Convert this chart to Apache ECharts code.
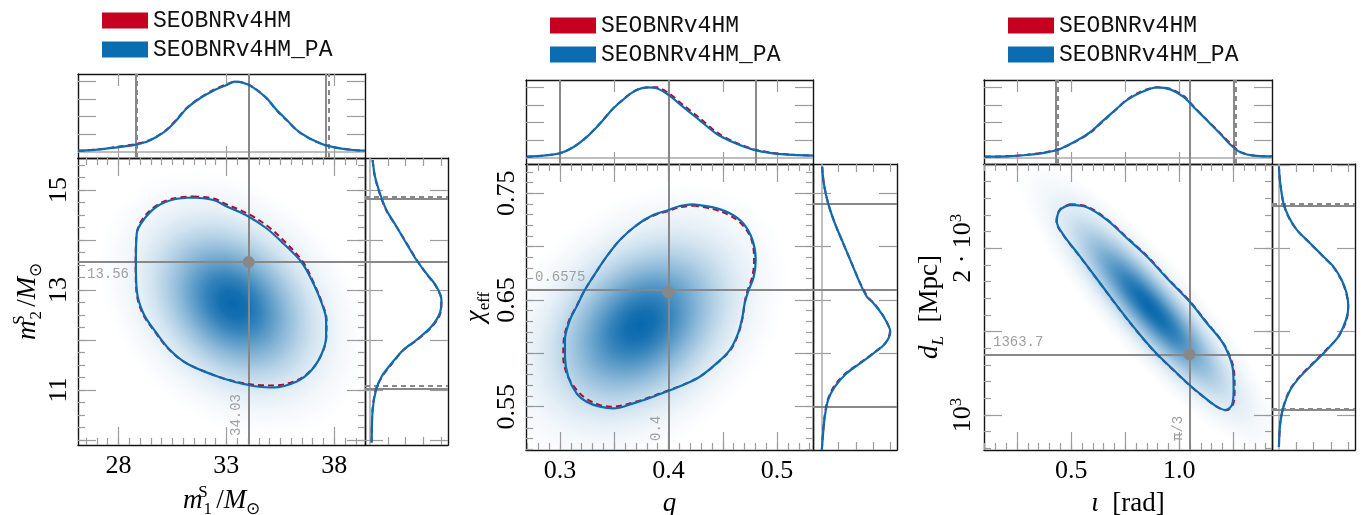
<!DOCTYPE html>
<html>
<head>
<meta charset="utf-8">
<script src="https://cdn.jsdelivr.net/npm/echarts@6/dist/echarts.min.js"></script>
<style>html,body{margin:0;padding:0;background:#fff}#c{width:1369px;height:515px}</style>
</head>
<body>
<div id="c"></div>
<script>
// ================= DATA =================
// ---- Panel 1: m1^S vs m2^S ----
const p1XRange = [26.13, 39.42];
const p1YRange = [9.9, 15.64];
const p1XMajor = [28, 33, 38];
const p1XLabels = [28, 33, 38];
const p1YMajor = [10, 11, 12, 13, 14, 15];
const p1YLabels = [11, 13, 15];
const p1Injected = [34.03, 13.56];
const p1InjectedText = ['34.03', '13.56'];
// density blob: centre, end of major axis (3 sigma), end of minor axis (3 sigma)
const p1DensityShape = [33.3, 12.72, 38.3, 10.56, 37.03, 14.33];
const p1ContourPA = [[31.47,14.85],[32.40,14.80],[33.02,14.67],[34.02,14.47],[34.87,14.23],[35.64,13.93],[36.49,13.55],[37.03,13.13],[37.42,12.73],[37.62,12.40],[37.62,12.07],[37.42,11.73],[36.95,11.40],[36.26,11.17],[35.18,11.05],[34.41,11.07],[34.02,11.10],[33.32,11.17],[32.40,11.30],[31.17,11.53],[30.39,11.80],[29.78,12.13],[29.16,12.53],[28.85,13.00],[28.81,13.55],[28.85,14.13],[29.16,14.40],[29.78,14.67],[30.55,14.81],[31.47,14.85]];
const p1ContourV4 = [[31.47,14.87],[32.40,14.83],[33.02,14.71],[34.02,14.52],[34.90,14.28],[35.70,13.97],[36.55,13.56],[37.06,13.13],[37.44,12.73],[37.64,12.40],[37.63,12.07],[37.43,11.73],[36.95,11.41],[36.26,11.19],[35.18,11.09],[34.41,11.10],[34.02,11.12],[33.32,11.18],[32.40,11.30],[31.10,11.55],[30.30,11.83],[29.70,12.16],[29.10,12.55],[28.83,13.00],[28.80,13.55],[28.85,14.13],[29.12,14.42],[29.76,14.69],[30.55,14.83],[31.47,14.87]];
const p1TopPA = [[26.13,0.013],[26.23,0.015],[27.15,0.033],[27.93,0.062],[28.69,0.095],[29.31,0.143],[29.78,0.214],[30.24,0.31],[30.70,0.453],[31.17,0.62],[31.78,0.763],[32.40,0.871],[33.02,0.953],[33.40,1.0],[33.94,0.967],[34.41,0.881],[34.87,0.763],[35.33,0.596],[35.80,0.453],[36.26,0.31],[36.72,0.214],[37.18,0.143],[37.65,0.086],[38.26,0.048],[38.88,0.024],[39.42,0.014]];
const p1TopV4 = [[26.13,0.012],[26.23,0.014],[27.15,0.036],[27.93,0.068],[28.69,0.104],[29.31,0.15],[29.78,0.22],[30.24,0.318],[30.70,0.462],[31.17,0.628],[31.78,0.77],[32.40,0.882],[33.02,0.965],[33.40,1.0],[33.94,0.972],[34.41,0.885],[34.87,0.76],[35.33,0.59],[35.80,0.447],[36.26,0.305],[36.72,0.21],[37.18,0.14],[37.65,0.088],[38.26,0.05],[38.88,0.025],[39.42,0.014]];
const p1RightPA = [[0.023,9.95],[0.037,10.6],[0.084,11.0],[0.163,11.27],[0.30,11.53],[0.465,11.8],[0.65,12.0],[0.86,12.27],[0.976,12.53],[1.0,12.8],[0.93,13.07],[0.79,13.33],[0.65,13.6],[0.51,13.93],[0.37,14.27],[0.23,14.6],[0.14,14.93],[0.07,15.27],[0.037,15.6]];
const p1RightV4 = [[0.023,9.95],[0.035,10.6],[0.08,11.0],[0.17,11.27],[0.31,11.53],[0.47,11.8],[0.66,12.0],[0.87,12.27],[0.985,12.53],[1.0,12.8],[0.925,13.07],[0.785,13.33],[0.655,13.6],[0.515,13.93],[0.37,14.27],[0.225,14.6],[0.135,14.93],[0.068,15.27],[0.036,15.6]];
const p1Bounds90X_PA = [28.81, 37.62];
const p1Bounds90X_V4 = [28.84, 37.72];
const p1Bounds90Y_PA = [14.83, 11.03];
const p1Bounds90Y_V4 = [14.87, 11.09];
const p1TopRange = [-0.09, 1.11];
const p1RightRange = [-0.07, 1.092];

// ---- Panel 2: q vs chi_eff ----
const p2XRange = [0.2687, 0.5331];
const p2YRange = [0.5094, 0.7775];
const p2XMajor = [0.3, 0.35, 0.4, 0.45, 0.5];
const p2XLabels = [0.3, 0.4, 0.5];
const p2YMajor = [0.55, 0.6, 0.65, 0.7, 0.75];
const p2YLabels = [0.55, 0.65, 0.75];
const p2Injected = [0.4, 0.6575];
const p2InjectedText = ['0.4', '0.6575'];
const p2DensityShape = [0.3736, 0.6266, 0.4898, 0.7306, 0.4465, 0.5421];
const p2ContourPA = [[0.4226,0.7397],[0.4410,0.7369],[0.4564,0.7313],[0.4687,0.7219],[0.4773,0.7063],[0.4803,0.6875],[0.4785,0.6719],[0.4733,0.6578],[0.4702,0.6469],[0.4681,0.6344],[0.4641,0.6188],[0.4564,0.6031],[0.4442,0.5906],[0.4288,0.5781],[0.4134,0.5703],[0.4003,0.5650],[0.3858,0.5594],[0.3674,0.5531],[0.3490,0.5484],[0.3368,0.5500],[0.3245,0.5547],[0.3153,0.5625],[0.3076,0.5781],[0.3046,0.5969],[0.3046,0.6125],[0.3092,0.6313],[0.3153,0.6438],[0.3220,0.6578],[0.3306,0.6719],[0.3429,0.6906],[0.3552,0.7063],[0.3706,0.7203],[0.3858,0.7297],[0.4003,0.7344],[0.4104,0.7381],[0.4226,0.7397]];
const p2ContourV4 = [[0.4226,0.7385],[0.4410,0.7352],[0.4560,0.7295],[0.4680,0.7205],[0.4765,0.7063],[0.4788,0.6875],[0.4772,0.6719],[0.4725,0.6578],[0.4700,0.6469],[0.4685,0.6344],[0.4645,0.6188],[0.4570,0.6031],[0.4445,0.5906],[0.4288,0.5781],[0.4134,0.5705],[0.4003,0.5655],[0.3858,0.5600],[0.3674,0.5540],[0.3490,0.5500],[0.3370,0.5515],[0.3250,0.5570],[0.3160,0.5650],[0.3070,0.5790],[0.3030,0.5969],[0.3035,0.6125],[0.3085,0.6313],[0.3150,0.6438],[0.3220,0.6578],[0.3306,0.6719],[0.3429,0.6906],[0.3552,0.7063],[0.3706,0.7200],[0.3858,0.7290],[0.4003,0.7335],[0.4104,0.7370],[0.4226,0.7385]];
const p2TopPA = [[0.2693,0.01],[0.2846,0.024],[0.3,0.058],[0.3122,0.144],[0.3245,0.288],[0.3368,0.48],[0.349,0.697],[0.3613,0.865],[0.3706,0.961],[0.3798,1.0],[0.389,0.986],[0.4003,0.889],[0.4134,0.72],[0.4288,0.529],[0.4442,0.337],[0.4595,0.216],[0.4779,0.111],[0.4963,0.058],[0.5147,0.034],[0.5331,0.024]];
const p2TopV4 = [[0.2693,0.01],[0.2846,0.024],[0.3,0.06],[0.3122,0.145],[0.3245,0.29],[0.3368,0.485],[0.349,0.70],[0.3613,0.868],[0.3706,0.962],[0.3798,0.997],[0.389,1.0],[0.4003,0.915],[0.4134,0.75],[0.4288,0.56],[0.4442,0.36],[0.4595,0.228],[0.4779,0.118],[0.4963,0.062],[0.5147,0.036],[0.5331,0.025]];
const p2RightPA = [[0.005,0.5094],[0.024,0.525],[0.048,0.5406],[0.097,0.5563],[0.195,0.5688],[0.366,0.5813],[0.561,0.5906],[0.756,0.6],[0.927,0.6094],[1.0,0.6203],[0.902,0.6344],[0.756,0.6469],[0.659,0.6531],[0.561,0.6656],[0.439,0.6844],[0.317,0.7031],[0.195,0.7219],[0.097,0.7406],[0.034,0.7594],[0.01,0.775]];
const p2RightV4 = [[0.005,0.5094],[0.022,0.525],[0.045,0.5406],[0.09,0.5563],[0.18,0.5688],[0.35,0.5813],[0.55,0.5906],[0.75,0.6],[0.925,0.6094],[0.995,0.6203],[0.905,0.6344],[0.765,0.6469],[0.67,0.6531],[0.565,0.6656],[0.44,0.6844],[0.315,0.7031],[0.195,0.7219],[0.097,0.7406],[0.034,0.7594],[0.01,0.775]];
const p2Bounds90X_PA = [0.3046, 0.4803];
const p2Bounds90X_V4 = [0.3015, 0.4794];
const p2Bounds90Y_PA = [0.7381, 0.5475];
const p2Bounds90Y_V4 = [0.7400, 0.5500];
const p2TopRange = [-0.095, 1.105];
const p2RightRange = [-0.123, 1.098];

// ---- Panel 3: iota vs d_L ----
const p3XRange = [0.097, 1.429];
const p3YRange = [790, 2505];
const p3XMajor = [0.25, 0.5, 0.75, 1.0, 1.25];
const p3XLabels = [0.5, 1.0];
const p3YMajor = [1000, 1500, 2000, 2500];
const p3YLabels = [1000, 2000];
const p3Injected = [1.0472, 1363.7];
const p3InjectedText = ['π/3', '1363.7'];
const p3DensityShape = [0.866, 1642, 1.462, 764, 1.033, 1832];
const p3ContourPA = [[0.4954,2260],[0.5727,2246],[0.6653,2170],[0.7579,2060],[0.8505,1950],[0.9431,1820],[1.0477,1680],[1.1281,1550],[1.1975,1440],[1.2284,1362],[1.2485,1270],[1.2515,1150],[1.2438,1060],[1.2130,1030],[1.1744,1050],[1.1125,1110],[1.0477,1180],[0.9736,1270],[0.8997,1362],[0.8194,1480],[0.7269,1630],[0.6343,1790],[0.5417,1950],[0.4644,2080],[0.4338,2160],[0.4491,2230],[0.4954,2260]];
const p3ContourV4 = [[0.4954,2264],[0.5727,2250],[0.6653,2174],[0.7579,2064],[0.8505,1954],[0.9431,1824],[1.0477,1684],[1.1281,1554],[1.1990,1440],[1.2310,1362],[1.2525,1270],[1.2560,1150],[1.2480,1060],[1.2150,1028],[1.1744,1048],[1.1125,1108],[1.0477,1178],[0.9736,1268],[0.8997,1360],[0.8194,1478],[0.7269,1628],[0.6343,1788],[0.5417,1948],[0.4644,2078],[0.4320,2160],[0.4480,2232],[0.4954,2264]];
const p3TopPA = [[0.1019,0.01],[0.2023,0.014],[0.2949,0.034],[0.3875,0.072],[0.4491,0.12],[0.5264,0.24],[0.588,0.36],[0.6495,0.529],[0.7116,0.697],[0.7579,0.817],[0.8194,0.922],[0.8968,1.0],[0.9583,0.971],[1.0199,0.865],[1.0662,0.72],[1.1282,0.529],[1.1898,0.337],[1.2361,0.183],[1.2824,0.072],[1.344,0.024],[1.429,0.014]];
const p3TopV4 = [[0.1019,0.01],[0.2023,0.015],[0.2949,0.036],[0.3875,0.078],[0.4491,0.125],[0.5264,0.235],[0.588,0.35],[0.6495,0.52],[0.7116,0.695],[0.7579,0.825],[0.8194,0.935],[0.8968,1.0],[0.9583,0.98],[1.0199,0.88],[1.0662,0.73],[1.1282,0.535],[1.1898,0.345],[1.2361,0.2],[1.2824,0.078],[1.344,0.026],[1.429,0.014]];
const p3RightPA = [[0.005,810],[0.024,950],[0.071,1050],[0.167,1150],[0.31,1230],[0.5,1310],[0.69,1390],[0.857,1470],[0.967,1570],[1.0,1650],[0.976,1730],[0.905,1810],[0.786,1890],[0.643,1950],[0.452,2030],[0.262,2110],[0.143,2190],[0.071,2270],[0.024,2390],[0.005,2490]];
const p3RightV4 = [[0.005,810],[0.024,950],[0.07,1050],[0.16,1150],[0.30,1230],[0.49,1310],[0.68,1390],[0.86,1470],[0.975,1570],[0.998,1650],[0.97,1730],[0.9,1810],[0.78,1890],[0.64,1950],[0.45,2030],[0.26,2110],[0.14,2190],[0.07,2270],[0.024,2390],[0.005,2490]];
const p3Bounds90X_PA = [0.434, 1.251];
const p3Bounds90X_V4 = [0.442, 1.259];
const p3Bounds90Y_PA = [2256, 1034];
const p3Bounds90Y_V4 = [2266, 1040];
const p3TopRange = [-0.095, 1.105];
const p3RightRange = [-0.094, 1.096];

const densityTicks = [0.25, 0.5, 0.75, 1.0];
const seriesNames = ['SEOBNRv4HM', 'SEOBNRv4HM_PA'];

// ================= STYLE / LAYOUT =================
const RED = '#c8001f', BLUE = '#0b6db1', GRAY = '#888888', TICK = '#9c9c9c';
const SERIF = 'Liberation Serif', MONO = 'Liberation Mono';

function steps(a, b, step) {
  const out = []; const n = Math.round((b - a) / step);
  for (let i = 0; i <= n; i++) out.push(+(a + i * step).toFixed(6));
  return out;
}

function box(l, t, w, h) { return {left:l, top:t, width:w, height:h, containLabel:false, outerBoundsMode:'none'}; }

const layout = [
  { main:box(78,158,287,287), top:box(78,74,287,84), right:box(365,158,83,287), legend:{left:102, top:9}, xNameGap:37, yNameGap:30, hPos:'insideStartBottom' },
  { main:box(526,164,287,286), top:box(526,80,287,84), right:box(813,164,84,286), legend:{left:550, top:14}, xNameGap:37, yNameGap:30, hPos:'insideStartTop' },
  { main:box(984,164,288,286), top:box(984,80,288,84), right:box(1272,164,83,286), legend:{left:1008, top:14}, xNameGap:37, yNameGap:34, hPos:'insideStartTop' }
];

const nameRich = {
  i:{fontFamily:SERIF, fontStyle:'italic', fontSize:27, lineHeight:34, color:'#000'},
  r:{fontFamily:SERIF, fontSize:27, lineHeight:34, color:'#000'},
  sub:{fontFamily:SERIF, fontSize:17, lineHeight:18, verticalAlign:'bottom', color:'#000'},
  subi:{fontFamily:SERIF, fontStyle:'italic', fontSize:17, lineHeight:18, verticalAlign:'bottom', color:'#000'},
  sup:{fontFamily:SERIF, fontSize:17, lineHeight:18, verticalAlign:'top', color:'#000'},
  // superscript stacked above the following subscript
  supz:{fontFamily:SERIF, fontSize:17, lineHeight:18, verticalAlign:'top', width:1, color:'#000'}
};
const labelRich = {
  s:{fontFamily:SERIF, fontSize:26, lineHeight:30, color:'#000'},
  p:{fontFamily:SERIF, fontSize:17, lineHeight:17, verticalAlign:'top', color:'#000'}
};

const panels = [
  { xr:p1XRange, yr:p1YRange, xMajor:p1XMajor, xMinor:steps(26.5,39,0.5), xLabels:p1XLabels, xFmt:null,
    yMajor:p1YMajor, yMinor:steps(10,15.5,0.25), yLabels:p1YLabels, yFmt:null,
    xName:'{i|m}{supz|S}{sub|1 }{r|/}{i|M}{sub|⊙}', yName:'{i|m}{supz|S}{sub|2 }{r|/}{i|M}{sub|⊙}',
    density:p1DensityShape, cPA:p1ContourPA, cV4:p1ContourV4, topPA:p1TopPA, topV4:p1TopV4, rightPA:p1RightPA, rightV4:p1RightV4,
    inj:p1Injected, injText:p1InjectedText, bx:[p1Bounds90X_PA,p1Bounds90X_V4], by:[p1Bounds90Y_PA,p1Bounds90Y_V4], topR:p1TopRange, rightR:p1RightRange },
  { xr:p2XRange, yr:p2YRange, xMajor:p2XMajor, xMinor:steps(0.27,0.53,0.01), xLabels:p2XLabels, xFmt:null,
    yMajor:p2YMajor, yMinor:steps(0.51,0.77,0.01), yLabels:p2YLabels, yFmt:null,
    xName:'{i|q}', yName:'{i|χ}{sub|eff}',
    density:p2DensityShape, cPA:p2ContourPA, cV4:p2ContourV4, topPA:p2TopPA, topV4:p2TopV4, rightPA:p2RightPA, rightV4:p2RightV4,
    inj:p2Injected, injText:p2InjectedText, bx:[p2Bounds90X_PA,p2Bounds90X_V4], by:[p2Bounds90Y_PA,p2Bounds90Y_V4], topR:p2TopRange, rightR:p2RightRange },
  { xr:p3XRange, yr:p3YRange, xMajor:p3XMajor, xMinor:steps(0.1,1.4,0.05), xLabels:p3XLabels, xFmt:function(v){return v.toFixed(1);},
    yMajor:p3YMajor, yMinor:steps(800,2500,100), yLabels:p3YLabels,
    yFmt:function(v){const m=Math.round(v/1000);return '{s|'+(m===1?'':m+' · ')+'10}{p|3}';},
    xName:'{i|ι}  {r|[rad]}', yName:'{i|d}{subi|L}  {r|[Mpc]}',
    density:p3DensityShape, cPA:p3ContourPA, cV4:p3ContourV4, topPA:p3TopPA, topV4:p3TopV4, rightPA:p3RightPA, rightV4:p3RightV4,
    inj:p3Injected, injText:p3InjectedText, bx:[p3Bounds90X_PA,p3Bounds90X_V4], by:[p3Bounds90Y_PA,p3Bounds90Y_V4], topR:p3TopRange, rightR:p3RightRange }
];

function mkAxis(gridIndex, position, range, o) {
  const a = {
    type:'value', gridIndex:gridIndex, position:position, min:range[0], max:range[1],
    axisLine:{show:!!o.line, onZero:false, lineStyle:{color:'#141414', width:1.4}},
    axisTick:{show:!!o.ticks, inside:true, length:o.len||6, customValues:o.ticks||[], lineStyle:{color:TICK, width:1.2}},
    axisLabel:{show:false},
    splitLine:{show:false}, minorTick:{show:false}, minorSplitLine:{show:false},
    axisPointer:{show:false}, silent:true
  };
  if (o.labels) {
    a.axisLabel = {show:true, customValues:o.labels, fontFamily:SERIF, fontSize:26, color:'#000',
      margin:o.margin, rotate:o.rotate||0, rich:labelRich};
    if (o.fmt) a.axisLabel.formatter = o.fmt;
  }
  if (o.name) {
    a.name = o.name; a.nameLocation = 'middle'; a.nameGap = o.nameGap;
    if (o.nameRotate !== undefined) a.nameRotate = o.nameRotate;
    a.nameTextStyle = {fontFamily:SERIF, fontSize:27, color:'#000', rich:nameRich};
  }
  return a;
}

function densityItem(params, api) {
  const c = api.coord([api.value(0), api.value(1)]);
  const a = api.coord([api.value(2), api.value(3)]);
  const b = api.coord([api.value(4), api.value(5)]);
  const ra = Math.hypot(a[0]-c[0], a[1]-c[1]);
  const rb = Math.hypot(b[0]-c[0], b[1]-c[1]);
  const ang = Math.atan2(a[1]-c[1], a[0]-c[0]);
  const col = 'rgba(8,104,172,';
  return {
    type:'circle', shape:{cx:0, cy:0, r:1}, x:c[0], y:c[1], scaleX:ra, scaleY:rb, rotation:-ang,
    style:{fill:{type:'radial', x:0.5, y:0.5, r:0.5, colorStops:[
      {offset:0, color:col+'1)'}, {offset:0.1, color:col+'0.95)'}, {offset:0.2, color:col+'0.82)'},
      {offset:0.3, color:col+'0.64)'}, {offset:0.4, color:col+'0.46)'}, {offset:0.5, color:col+'0.3)'},
      {offset:0.6, color:col+'0.18)'}, {offset:0.7, color:col+'0.1)'}, {offset:0.8, color:col+'0.05)'},
      {offset:0.9, color:col+'0.022)'}, {offset:1, color:col+'0)'}]}}
  };
}

const grids = [], xAxis = [], yAxis = [], series = [], legends = [];
const lineSolid = {color:GRAY, width:2, type:'solid'};
const lineDash = {color:GRAY, width:2, type:[5,4]};
const zeroLine = {color:'#a8a8a8', width:1.5, type:'solid'};
const injLabel = {show:true, color:'#a0a0a0', fontFamily:MONO, fontSize:14};

panels.forEach(function(P, k) {
  const L = layout[k];
  const gM = grids.length; grids.push(L.main);
  const gT = grids.length; grids.push(L.top);
  const gR = grids.length; grids.push(L.right);

  // main grid axes
  const xM = xAxis.length;
  xAxis.push(mkAxis(gM,'bottom',P.xr,{line:true, ticks:P.xMajor, len:18, labels:P.xLabels, fmt:P.xFmt, margin:8, name:P.xName, nameGap:L.xNameGap}));
  xAxis.push(mkAxis(gM,'bottom',P.xr,{ticks:P.xMinor, len:7}));
  xAxis.push(mkAxis(gM,'top',P.xr,{line:true, ticks:P.xMajor, len:18}));
  xAxis.push(mkAxis(gM,'top',P.xr,{ticks:P.xMinor, len:7}));
  const yM = yAxis.length;
  yAxis.push(mkAxis(gM,'left',P.yr,{line:true, ticks:P.yMajor, len:18, labels:P.yLabels, fmt:P.yFmt, margin:6, rotate:90, name:P.yName, nameGap:L.yNameGap, nameRotate:90}));
  yAxis.push(mkAxis(gM,'left',P.yr,{ticks:P.yMinor, len:7}));
  yAxis.push(mkAxis(gM,'right',P.yr,{line:true, ticks:P.yMajor, len:18}));
  yAxis.push(mkAxis(gM,'right',P.yr,{ticks:P.yMinor, len:7}));

  // top marginal axes
  const xT = xAxis.length;
  xAxis.push(mkAxis(gT,'bottom',P.xr,{line:true, ticks:P.xMajor, len:12}));
  xAxis.push(mkAxis(gT,'top',P.xr,{line:true, ticks:P.xMajor, len:12}));
  const yT = yAxis.length;
  yAxis.push(mkAxis(gT,'left',P.topR,{line:true, ticks:densityTicks, len:18}));
  yAxis.push(mkAxis(gT,'right',P.topR,{line:true, ticks:densityTicks, len:18}));

  // right marginal axes
  const xR = xAxis.length;
  xAxis.push(mkAxis(gR,'bottom',P.rightR,{line:true, ticks:densityTicks, len:8}));
  xAxis.push(mkAxis(gR,'top',P.rightR,{line:true, ticks:densityTicks, len:8}));
  const yR = yAxis.length;
  yAxis.push(mkAxis(gR,'left',P.yr,{line:true, ticks:P.yMajor, len:18}));
  yAxis.push(mkAxis(gR,'right',P.yr,{line:true, ticks:P.yMajor, len:18}));

  // ---- main panel series ----
  series.push({type:'custom', xAxisIndex:xM, yAxisIndex:yM, clip:true, silent:true, z:1,
    renderItem:densityItem, data:[P.density], encode:{x:0, y:1}});
  series.push({type:'line', name:seriesNames[0], xAxisIndex:xM, yAxisIndex:yM, data:P.cV4, smooth:0.35,
    symbol:'none', silent:true, z:3, itemStyle:{color:RED}, lineStyle:{color:RED, width:2, type:[6,4]}});
  series.push({type:'line', name:seriesNames[1], xAxisIndex:xM, yAxisIndex:yM, data:P.cPA, smooth:0.35,
    symbol:'none', silent:true, z:4, itemStyle:{color:BLUE}, lineStyle:{color:BLUE, width:2.2}});
  series.push({type:'scatter', name:'injection-lines', xAxisIndex:xM, yAxisIndex:yM, data:[P.inj], symbolSize:0, silent:true, z:2,
    markLine:{symbol:['none','none'], silent:true, animation:false, z:2, lineStyle:lineSolid,
      data:[
        {xAxis:P.inj[0], lineStyle:lineSolid, label:Object.assign({}, injLabel, {position:'insideStartTop', distance:[9,5], formatter:P.injText[0]})},
        {yAxis:P.inj[1], lineStyle:lineSolid, label:Object.assign({}, injLabel, {position:L.hPos, distance:[9,5], formatter:P.injText[1]})}
      ]}});
  series.push({type:'scatter', name:'injection', xAxisIndex:xM, yAxisIndex:yM, data:[P.inj], symbolSize:12, silent:true, z:6,
    itemStyle:{color:GRAY, opacity:1}});

  // ---- top marginal ----
  series.push({type:'line', name:seriesNames[0], xAxisIndex:xT, yAxisIndex:yT, data:P.topV4, smooth:0.3,
    symbol:'none', silent:true, z:3, itemStyle:{color:RED}, lineStyle:{color:RED, width:2, type:[6,4]}});
  series.push({type:'line', name:seriesNames[1], xAxisIndex:xT, yAxisIndex:yT, data:P.topPA, smooth:0.3,
    symbol:'none', silent:true, z:4, itemStyle:{color:BLUE}, lineStyle:{color:BLUE, width:2.2}});
  series.push({type:'scatter', name:'top-lines', xAxisIndex:xT, yAxisIndex:yT, data:[[P.inj[0], 0]], symbolSize:0, silent:true, z:2,
    markLine:{symbol:['none','none'], silent:true, animation:false, z:2, label:{show:false}, lineStyle:lineSolid,
      data:[
        {yAxis:0, lineStyle:zeroLine},
        {xAxis:P.inj[0], lineStyle:lineSolid},
        {xAxis:P.bx[0][0], lineStyle:lineSolid}, {xAxis:P.bx[0][1], lineStyle:lineSolid},
        {xAxis:P.bx[1][0], lineStyle:lineDash}, {xAxis:P.bx[1][1], lineStyle:lineDash}
      ]}});

  // ---- right marginal ----
  series.push({type:'line', name:seriesNames[0], xAxisIndex:xR, yAxisIndex:yR, data:P.rightV4, smooth:0.3,
    symbol:'none', silent:true, z:3, itemStyle:{color:RED}, lineStyle:{color:RED, width:2, type:[6,4]}});
  series.push({type:'line', name:seriesNames[1], xAxisIndex:xR, yAxisIndex:yR, data:P.rightPA, smooth:0.3,
    symbol:'none', silent:true, z:4, itemStyle:{color:BLUE}, lineStyle:{color:BLUE, width:2.2}});
  series.push({type:'scatter', name:'right-lines', xAxisIndex:xR, yAxisIndex:yR, data:[[0, P.inj[1]]], symbolSize:0, silent:true, z:2,
    markLine:{symbol:['none','none'], silent:true, animation:false, z:2, label:{show:false}, lineStyle:lineSolid,
      data:[
        {xAxis:0, lineStyle:zeroLine},
        {yAxis:P.inj[1], lineStyle:lineSolid},
        {yAxis:P.by[0][0], lineStyle:lineSolid}, {yAxis:P.by[0][1], lineStyle:lineSolid},
        {yAxis:P.by[1][0], lineStyle:lineDash}, {yAxis:P.by[1][1], lineStyle:lineDash}
      ]}});

  legends.push({left:L.legend.left, top:L.legend.top, padding:0, orient:'vertical', itemWidth:46, itemHeight:16, itemGap:6,
    selectedMode:false, icon:'rect',
    data:[{name:seriesNames[0], icon:'rect', itemStyle:{color:RED}}, {name:seriesNames[1], icon:'rect', itemStyle:{color:BLUE}}],
    textStyle:{fontFamily:MONO, fontSize:23, color:'#111'}});
});

const option = {
  animation:false,
  backgroundColor:'#ffffff',
  textStyle:{fontFamily:SERIF},
  grid:grids, xAxis:xAxis, yAxis:yAxis, series:series, legend:legends
};

const chart = echarts.init(document.getElementById('c'), null, {renderer:'canvas', width:1369, height:515});
chart.setOption(option);
</script>
</body>
</html>
